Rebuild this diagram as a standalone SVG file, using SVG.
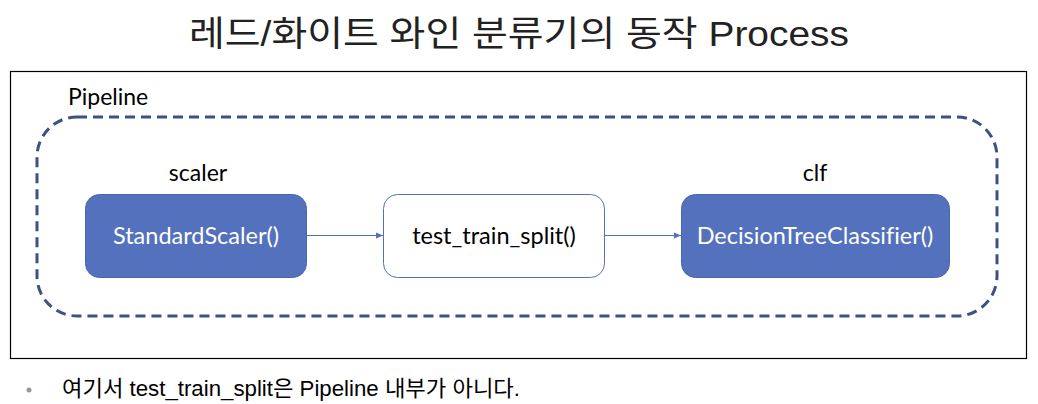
<svg xmlns="http://www.w3.org/2000/svg" width="1038" height="404" viewBox="0 0 1038 404">
<style>
.cjk{font-family:"Liberation Sans","Noto Sans CJK KR",sans-serif}
.lbl{font-family:Lato,"Open Sans",sans-serif;font-size:23px;fill:#000;font-variant-ligatures:none}
.box{font-family:Lato,"Open Sans",sans-serif;font-size:23.5px;text-anchor:middle;font-variant-ligatures:none}
.filled{fill:#5371BD;stroke:#4A66AD;stroke-width:1}
.plain{fill:#fff;stroke:#5371BD;stroke-width:1}
.conn{stroke:#5371BD;stroke-width:1;fill:none}
</style>
<defs>
<marker id="arr" markerWidth="8" markerHeight="8" refX="7" refY="4" orient="auto" markerUnits="userSpaceOnUse">
<path d="M0,1 L7,4 L0,7 Z" fill="#5371BD"/>
</marker>
</defs>
<rect width="1038" height="404" fill="#fff"/>
<text class="cjk" x="519" y="46" font-size="35" text-anchor="middle" fill="#222" textLength="660" lengthAdjust="spacingAndGlyphs">레드/화이트 와인 분류기의 동작 Process</text>
<rect x="10.5" y="71.5" width="1016" height="287" fill="none" stroke="#000" stroke-width="1.2"/>
<g id="pipeline">
<text class="lbl" x="68" y="105">Pipeline</text>
<rect x="37" y="117" width="960" height="199" rx="40" fill="none" stroke="#3F5183" stroke-width="3" stroke-dasharray="10,6"/>
</g>
<g id="scaler">
<text class="lbl" x="198" y="181" text-anchor="middle">scaler</text>
<rect class="filled" x="85.5" y="194.5" width="221" height="83" rx="14"/>
<text class="box" x="196" y="244" fill="#fff">StandardScaler()</text>
</g>
<g id="split">
<rect class="plain" x="383.5" y="194.5" width="221" height="83" rx="14"/>
<text class="box" x="494" y="244" fill="#000">test_train_split()</text>
</g>
<g id="clf">
<text class="lbl" x="815" y="181" text-anchor="middle">clf</text>
<rect class="filled" x="681.5" y="194.5" width="268" height="83" rx="14"/>
<text class="box" x="815" y="244" fill="#fff">DecisionTreeClassifier()</text>
</g>
<g id="connectors">
<line class="conn" x1="307" y1="235.5" x2="383" y2="235.5" marker-end="url(#arr)"/>
<line class="conn" x1="605" y1="235.5" x2="681" y2="235.5" marker-end="url(#arr)"/>
</g>
<circle cx="29" cy="390" r="2.5" fill="#999"/>
<text class="cjk" x="62" y="396" font-size="22" fill="#000" textLength="458" lengthAdjust="spacingAndGlyphs">여기서 test_train_split은 Pipeline 내부가 아니다.</text>
</svg>
